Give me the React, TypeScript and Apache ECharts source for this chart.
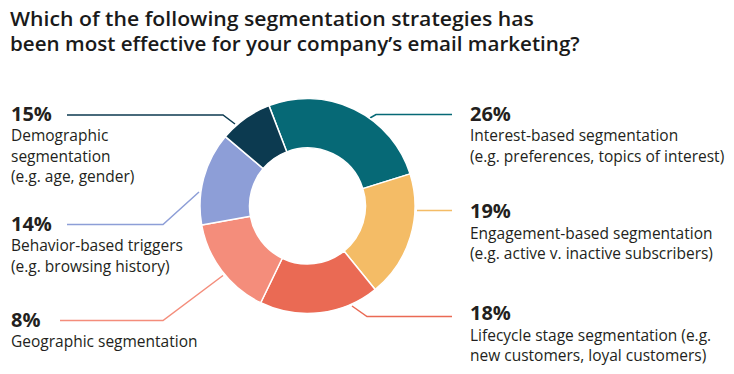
import React, { useEffect, useRef } from "react";
import * as echarts from "echarts";

const titleLines = [
  "Which of the following segmentation strategies has",
  "been most effective for your company’s email marketing?",
];

// slices, clockwise from the top
const sliceNames = [
  "Interest-based segmentation",
  "Engagement-based segmentation",
  "Lifecycle stage segmentation",
  "Geographic segmentation",
  "Behavior-based triggers",
  "Demographic segmentation",
];
const sliceValues = [26, 19, 18, 15, 14, 8];
const sliceColors = ["#066976", "#F4BC66", "#EA6A54", "#F48D7B", "#8D9ED7", "#0C3A50"];

// printed labels (as in the reference)
const labelPercents = ["26%", "19%", "18%", "8%", "14%", "15%"];
const labelTexts = [
  "Interest-based segmentation\n(e.g. preferences, topics of interest)",
  "Engagement-based segmentation\n(e.g. active v. inactive subscribers)",
  "Lifecycle stage segmentation (e.g.\nnew customers, loyal customers)",
  "Geographic segmentation",
  "Behavior-based triggers\n(e.g. browsing history)",
  "Demographic\nsegmentation\n(e.g. age, gender)",
];
// label anchor (x, baseline of percent)
const labelAnchors: [number, number][] = [
  [470, 120],
  [470, 217.5],
  [470, 319.5],
  [11, 326],
  [11, 230],
  [11, 120],
];
const leaderLines: [number, number][][] = [
  [[370, 118], [376, 114.5], [452, 114.5]],
  [[417, 210.5], [452, 210.5]],
  [[352, 306], [367, 316.5], [452, 316.5]],
  [[60, 320.5], [163, 320.5], [223, 275.5]],
  [[67, 224.5], [163, 224.5], [199, 192]],
  [[67, 115], [223, 115], [235, 124]],
];

const FONT = "'Open Sans', 'Noto Sans', sans-serif";
const TEXT = "#231F20";

export default function App() {
  const ref = useRef<HTMLDivElement>(null);
  useEffect(() => {
    const chart = echarts.init(ref.current!, null, { renderer: "svg" });
    const graphics: any[] = [];
    titleLines.forEach((t, i) => {
      graphics.push({
        type: "text",
        x: 10,
        y: 8 + i * 24.8,
        scaleX: i === 0 ? 1.03 : 1,
        style: {
          text: t,
          fontFamily: FONT,
          fontSize: 20.6,
          fontWeight: 600,
          fill: "#1A1A1A",
          verticalAlign: "top",
          lineHeight: 20,
        },
      });
    });
    labelPercents.forEach((p, i) => {
      const [x, yb] = labelAnchors[i];
      graphics.push({
        type: "text",
        x,
        y: yb - 17,
        style: {
          text: p,
          fontFamily: FONT,
          fontSize: 20,
          fontWeight: 700,
          fill: TEXT,
          verticalAlign: "top",
          lineHeight: 20,
        },
      });
      graphics.push({
        type: "text",
        x,
        y: yb + 4.8,
        style: {
          text: labelTexts[i],
          fontFamily: FONT,
          fontSize: 15.5,
          fill: TEXT,
          verticalAlign: "top",
          lineHeight: 20.6,
        },
      });
      graphics.push({
        type: "polyline",
        shape: { points: leaderLines[i] },
        style: { stroke: sliceColors[i], lineWidth: 1.5, fill: null },
      });
    });
    chart.setOption({
      animation: false,
      series: [
        {
          type: "pie",
          radius: [58, 107.5],
          center: [307.5, 206],
          startAngle: 111,
          clockwise: true,
          silent: true,
          label: { show: false },
          labelLine: { show: false },
          itemStyle: { borderColor: "#fff", borderWidth: 1.5 },
          data: sliceValues.map((v, i) => ({
            name: sliceNames[i],
            value: v,
            itemStyle: { color: sliceColors[i] },
          })),
        },
      ],
      graphic: graphics,
    });
    return () => chart.dispose();
  }, []);
  return <div ref={ref} style={{ width: 734, height: 374, position: "absolute", left: 0, top: 0 }} />;
}
